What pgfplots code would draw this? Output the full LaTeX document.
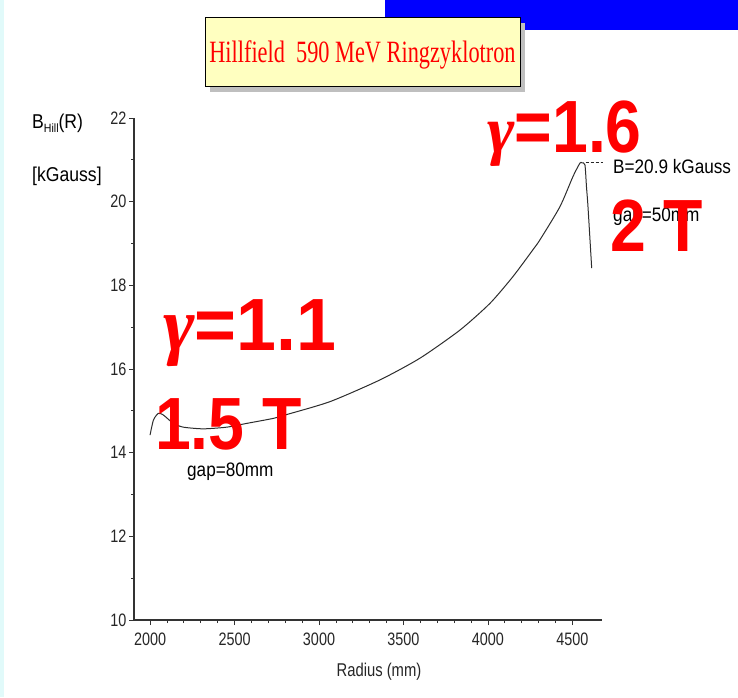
\documentclass[border=0pt]{standalone}
\usepackage{fontspec}
\usepackage{pgfplots}
\pgfplotsset{compat=1.18}
\setmainfont{Liberation Sans}
\newfontfamily\plotfont[FakeStretch=0.8]{Liberation Sans}
\newfontfamily\labfont[FakeStretch=0.88]{Liberation Sans}
\newfontfamily\bigfont[FakeStretch=0.87]{Liberation Sans}
\newfontfamily\bigfontw[FakeStretch=0.97]{Liberation Sans}
\newfontfamily\titlefont[FakeStretch=0.72]{Liberation Serif}
\newfontfamily\gamfont{Liberation Serif}
\definecolor{boxyellow}{RGB}{255,255,192}
\definecolor{curvegray}{RGB}{45,45,45}
\definecolor{edgecyan}{RGB}{225,250,250}
\begin{document}
\begin{tikzpicture}[x=1pt,y=1pt]
\fill[white] (0,0) rectangle (738,-697);
\path[use as bounding box] (0,0) rectangle (738,-697);
\fill[edgecyan] (0,0) rectangle (4,-697);
% blue bar
\fill[blue] (385,0) rectangle (738,-30);
% title box
\fill[black!25] (210,-23) rectangle (525,-92);
\draw[line width=1pt, fill=boxyellow] (205,-17) rectangle (520,-86);
\node[anchor=base, text=red, inner sep=0pt, font=\titlefont\fontsize{31}{31}\selectfont] at (362.5,-62) {Hillfield\ \ 590 MeV Ringzyklotron};
\begin{axis}[
  at={(134pt,-620pt)}, anchor=south west,
  scale only axis, width=468pt, height=502pt,
  xmin=1905, xmax=4675, ymin=10, ymax=22,
  axis lines=left,
  axis line style={-, line width=1.2pt, black!80},
  xtick={2000,2500,...,4500}, minor x tick num=4,
  ytick={10,12,...,22}, minor y tick num=1,
  tick align=outside, major tick length=5pt, minor tick length=3pt,
  tick style={black!80, line width=0.8pt},
  scaled x ticks=false, scaled y ticks=false,
  /pgf/number format/assume math mode=true,
  /pgf/number format/1000 sep={},
  ticklabel style={font=\plotfont\fontsize{18}{18}\selectfont, text=black!85},
  xticklabel style={yshift=-4pt},
  yticklabel style={xshift=1pt},
  clip=false,
]
\addplot[curvegray, line width=1pt, smooth, tension=0.4] coordinates {
(2000,14.42)(2020,14.78)(2049,14.94)(2079,14.90)(2138,14.70)(2197,14.61)
(2315,14.57)(2454,14.61)(2572,14.70)(2730,14.82)(2799,14.90)(3065,15.22)
(3361,15.74)(3598,16.26)(3834,16.93)(4012,17.57)(4148,18.21)(4266,18.85)
(4308,19.09)(4426,19.88)(4503,20.60)(4544,20.92)(4556,20.93)(4574,20.88)
(4583,20.36)(4592,19.88)(4614,18.41)
};
\addplot[black!85, line width=1pt, dash pattern=on 3pt off 2pt] coordinates {(4578,20.93)(4682,20.93)};
\end{axis}
% axis labels
\node[anchor=base, inner sep=0pt, font=\plotfont\fontsize{18.5}{18.5}\selectfont, text=black!85] at (379,-676) {Radius (mm)};
\node[anchor=base west, inner sep=0pt, font=\labfont\fontsize{20}{20}\selectfont] at (32,-128) {B\raisebox{-4pt}{\fontsize{12}{12}\selectfont Hill}(R)};
\node[anchor=base west, inner sep=0pt, font=\labfont\fontsize{20}{20}\selectfont] at (32,-181.5) {[kGauss]};
% annotations
\node[anchor=base west, inner sep=0pt, font=\labfont\fontsize{19.5}{19.5}\selectfont] at (613,-173) {B=20.9 kGauss};
\node[anchor=base west, inner sep=0pt, font=\labfont\fontsize{19.5}{19.5}\selectfont] at (613,-221) {gap=50mm};
\node[anchor=base west, inner sep=0pt, font=\labfont\fontsize{19.5}{19.5}\selectfont] at (187,-476) {gap=80mm};
% big red text
\node[anchor=base west, inner sep=0pt, text=red] at (487,-152.7) {{\gamfont\itshape\bfseries\fontsize{66}{66}\selectfont γ}{\bigfont\bfseries\fontsize{74}{74}\selectfont =1.6}};
\node[anchor=base west, inner sep=0pt, text=red, font=\bigfont\bfseries\fontsize{74}{74}\selectfont] at (610,-251.7) {2 T};
\node[anchor=base west, inner sep=0pt, text=red] at (163,-350.7) {{\gamfont\itshape\bfseries\fontsize{76}{76}\selectfont γ}{\bigfontw\bfseries\fontsize{74}{74}\selectfont =1.1}};
\node[anchor=base west, inner sep=0pt, text=red, font=\bigfont\bfseries\fontsize{74}{74}\selectfont] at (155,-449.3) {1.5 T};
\end{tikzpicture}
\end{document}
